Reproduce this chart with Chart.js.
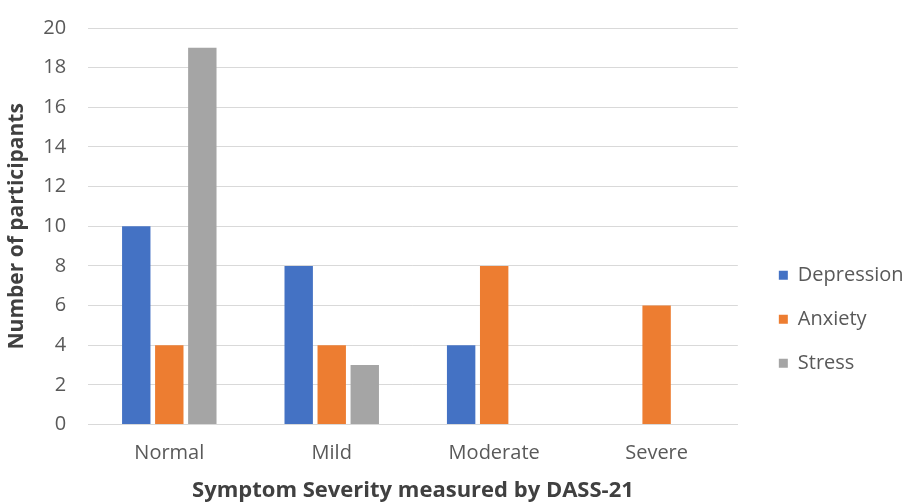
<!DOCTYPE html>
<html>
<head>
<meta charset="utf-8">
<script src="https://cdn.jsdelivr.net/npm/chart.js@4.4.1/dist/chart.umd.min.js"></script>
<style>
    html, body { margin: 0; padding: 0; background: #ffffff; }
    #wrap { width: 910px; height: 504px; }
</style>
</head>
<body>
<div id="wrap"><canvas id="chart"></canvas></div>
<script>
    // Data
    const categories = ['Normal', 'Mild', 'Moderate', 'Severe'];
    const depression = [10, 8, 4, 0];
    const anxiety = [4, 4, 8, 6];
    const stress = [19, 3, 0, 0];

    const FONT = '"Open Sans", sans-serif';

    const ctx = document.getElementById('chart');

    new Chart(ctx, {
        type: 'bar',
        data: {
            labels: categories,
            datasets: [
                { label: 'Depression', data: depression, backgroundColor: '#4472c4' },
                { label: 'Anxiety', data: anxiety, backgroundColor: '#ed7d31' },
                { label: 'Stress', data: stress, backgroundColor: '#a5a5a5' }
            ]
        },
        options: {
            responsive: true,
            maintainAspectRatio: false,
            animation: false,
            layout: {
                padding: { top: 4, right: 5, bottom: 0, left: 4 }
            },
            datasets: {
                bar: {
                    categoryPercentage: 0.61,
                    barPercentage: 0.86
                }
            },
            plugins: {
                legend: {
                    position: 'right',
                    align: 'center',
                    // blank title just pushes the items down a bit
                    title: {
                        display: true,
                        text: ' ',
                        padding: { top: 58, bottom: 58 }
                    },
                    labels: {
                        boxWidth: 9,
                        boxHeight: 9,
                        padding: 24,
                        color: '#595959',
                        font: { family: FONT, size: 20 }
                    }
                },
                tooltip: { enabled: false }
            },
            scales: {
                x: {
                    grid: { display: false },
                    border: { color: '#d9d9d9', width: 1 },
                    ticks: {
                        color: '#595959',
                        padding: 9,
                        font: { family: FONT, size: 20 }
                    },
                    title: {
                        display: true,
                        text: 'Symptom Severity measured by DASS-21',
                        color: '#404040',
                        padding: { top: 3, bottom: 0 },
                        font: { family: FONT, size: 22, weight: 'bold' }
                    }
                },
                y: {
                    beginAtZero: true,
                    min: 0,
                    max: 20,
                    grid: { color: '#d9d9d9', drawTicks: false },
                    border: { display: false },
                    ticks: {
                        stepSize: 2,
                        color: '#595959',
                        padding: 22,
                        font: { family: FONT, size: 20 }
                    },
                    title: {
                        display: true,
                        text: 'Number of participants',
                        color: '#404040',
                        padding: { top: 0, bottom: -8 },
                        font: { family: FONT, size: 21, weight: 'bold' }
                    },
                    // tick padding also pads the top; pull the plot up a little
                    afterFit: function(scale) { scale.paddingTop = 28; }
                },
                // empty spacer between plot and legend
                gap: {
                    position: 'right',
                    display: true,
                    grid: { display: false },
                    border: { display: false },
                    ticks: { display: false },
                    afterFit: function(scale) { scale.width = 17; }
                }
            }
        }
    });
</script>
</body>
</html>
